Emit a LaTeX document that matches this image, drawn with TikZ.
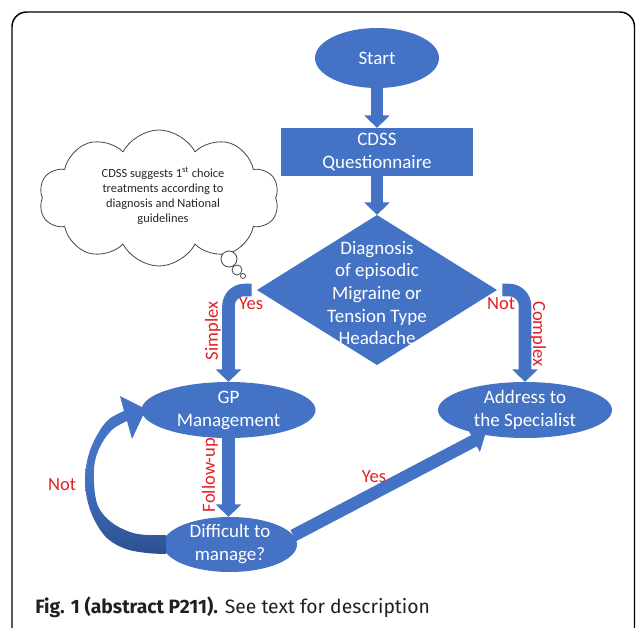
\documentclass[tikz,border=0pt]{standalone}
\usepackage{fontspec}
\setmainfont{Carlito}
\newfontfamily\capfont{Fira Sans}
\usetikzlibrary{shapes.geometric,shapes.symbols,arrows.meta,calc}
\definecolor{pblue}{RGB}{68,114,196}
\definecolor{dblue}{RGB}{44,80,145}
\definecolor{pred}{RGB}{226,30,38}
\definecolor{cloudline}{RGB}{70,70,70}
\definecolor{captxt}{RGB}{35,31,32}
\begin{document}
\begin{tikzpicture}[x=0.75pt,y=-0.75pt,
  shapebox/.style={fill=pblue, draw=none, inner sep=0pt, outer sep=0pt},
  ell/.style={shapebox, ellipse},
  wtxt/.style={text=white, align=center, font=\fontsize{14.25}{17.25}\selectfont, inner sep=0pt},
  redlbl/.style={text=pred, font=\fontsize{13.9}{16}\selectfont, inner sep=0pt},
  barrow/.style={draw=pblue, line width=9.4pt, -{Triangle[width=18.5pt,length=9.5pt]}},
  bubble/.style={circle, draw=cloudline, line width=0.6pt, fill=white, inner sep=0pt},
]
\useasboundingbox (0,0) rectangle (637,628);
\clip (0,0) rectangle (637,628);

% frame
\draw[line width=1.1pt, rounded corners=11pt] (12,12) rectangle (634.5,648);

% shapes
\node[ell, minimum width=93pt, minimum height=45pt] (start) at (377,58) {};
\node[shapebox, rectangle, minimum width=144pt, minimum height=36pt] (q) at (377,152) {};
\node[shapebox, diamond, minimum width=180pt, minimum height=112.5pt, aspect=1.6] (dia) at (377,290) {};
\node[ell, minimum width=130.5pt, minimum height=42pt] (gp) at (228.5,410) {};
\node[ell, minimum width=130.5pt, minimum height=42pt] (addr) at (525,410) {};
\node[ell, minimum width=100.5pt, minimum height=41.25pt] (diff) at (230,544.5) {};

% cloud
\node[cloud, cloud puffs=10, cloud puff arc=125, cloud ignores aspect, draw=cloudline, line width=0.6pt, fill=white,
      minimum width=180pt, minimum height=102pt, inner sep=0pt] (cloud) at (159,198) {};
\node[bubble, minimum size=12pt] (b1) at (229,259) {};
\node[bubble, minimum size=7.5pt] (b2) at (237,270) {};
\node[bubble, minimum size=3.75pt] (b3) at (243,276) {};
\node[align=center, inner sep=0pt, font=\fontsize{9.3}{11.25}\selectfont, text=black!85] (cloudtxt) at (163,196)
  {CDSS suggests 1\textsuperscript{st} choice\\treatments according to\\diagnosis and National\\guidelines};

% connectors
\draw[barrow] (start.south) -- (q.north);
\draw[barrow] (q.south) -- (dia.north);
\draw[barrow, rounded corners=12pt] ([xshift=-4pt]dia.west) -| (gp.north);
\draw[barrow, rounded corners=12pt] ([xshift=4pt]dia.east) -| (addr.north);
\draw[barrow] (gp.south) -- (gp.south |- diff.north);
\draw[barrow] (diff.8) -- (addr.212);

% curved "Not" arrow back to GP
\path[top color=pblue, bottom color=dblue, middle color=pblue]
  plot[smooth, tension=0.6] coordinates {(166,554) (147,553) (126,549) (108,539) (96,523) (88,503) (85,480) (88,457) (96,437) (108,420) (124,411)}
  -- (120,396) -- (146,409) -- (132,439) -- (127,421)
  -- plot[smooth, tension=0.6] coordinates {(127,421) (113,429) (102,443) (95,461) (94,483) (98,506) (111,522) (130,532) (147,535) (166,535)}
  -- cycle;

% texts in shapes
\node[wtxt] (starttxt) at (start.center) {Start};
\node[wtxt] (qtxt) at (q.center) {CDSS\\Questionnaire};
\node[wtxt, font=\fontsize{14.25}{16.9}\selectfont] (diatxt) at (377,293) {Diagnosis\\of episodic\\Migraine or\\Tension Type\\Headache};
\node[wtxt] (gptxt) at (gp.center) {GP\\Management};
\node[wtxt] (addrtxt) at (addr.center) {Address to\\the Specialist};
\node[wtxt] (difftxt) at (diff.center) {Difficult to\\manage?};

% red labels
\node[redlbl] (lyes1) at (251,304) {Yes};
\node[redlbl, rotate=90] (lsimplex) at (213,331) {Simplex};
\node[redlbl] (lnot1) at (501,304) {Not};
\node[redlbl, rotate=-90] (lcomplex) at (538,334) {Complex};
\node[redlbl, rotate=90] (lfollow) at (210,475) {Follow-up};
\node[redlbl] (lnot2) at (62,485) {Not};
\node[redlbl] (lyes2) at (374,477) {Yes};

% caption
\node[anchor=base west, inner sep=0pt, text=captxt] (cap) at (35,613)
  {\capfont\fontsize{14.5}{17}\selectfont\textbf{Fig. 1 (abstract P211).} See text for description};
\end{tikzpicture}
\end{document}
